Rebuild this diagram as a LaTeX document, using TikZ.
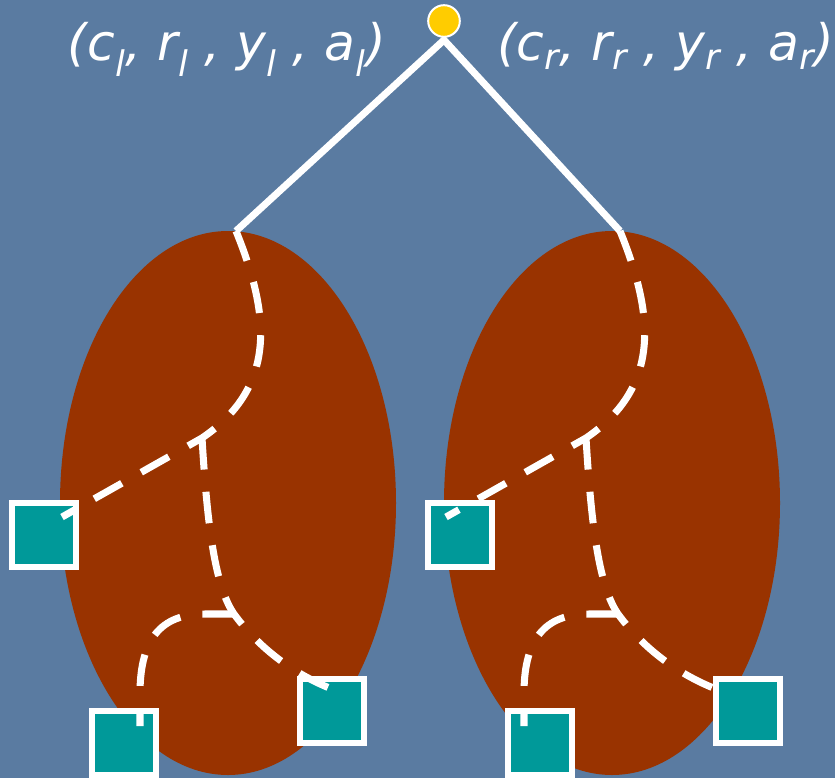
\documentclass[tikz,border=0pt]{standalone}
\usepackage{fontspec}
\setmainfont{DejaVu Sans}
\usetikzlibrary{positioning}
\definecolor{slide-blue}{HTML}{5A7BA1}
\definecolor{slide-rust}{HTML}{993300}
\definecolor{slide-teal}{HTML}{009999}
\definecolor{slide-gold}{HTML}{FFCC00}

\begin{document}
\begin{tikzpicture}[x=0.03cm, y=-0.03cm,
  leaf/.style={draw=white, fill=slide-teal, line width=5pt, minimum size=54pt, inner sep=0pt},
  branch/.style={white, line width=6pt},
  subtree/.style={white, line width=6pt, dash pattern=on 27pt off 19pt},
  tuple/.style={text=white, font=\fontsize{43}{50}\selectfont\itshape, inner sep=0pt}]
  \useasboundingbox (0,0) rectangle (835,778);
  \fill[slide-blue] (0,0) rectangle (835,778);

  \node[tuple, anchor=base east] (tupl) at (386,60)
    {(c\textsubscript{l}, r\textsubscript{l} , y\textsubscript{l} , a\textsubscript{l})};
  \node[tuple, anchor=base west] (tupr) at (497,60)
    {(c\textsubscript{r}, r\textsubscript{r} , y\textsubscript{r} , a\textsubscript{r})};

  \foreach \s/\d/\n in {0/0/l, 384/32/r} {
    \begin{scope}[shift={(\s,0)}]
      \fill[slide-rust] (228,503) ellipse [x radius=168, y radius=272];
      \coordinate (top\n) at (236,231);
      \coordinate (forka\n) at (202,438);
      \coordinate (forkb\n) at (234,614);
      \coordinate (tipa\n) at (62,517);
      \coordinate (tipb\n) at (140,726);
      \coordinate (tipc\n) at (340,692);
      \node[leaf] (leafa\n) at (44+\d,535) {};
      \node[leaf] (leafb\n) at (124+\d,743) {};
      \node[leaf] (leafc\n) at (332+\d,711) {};
      \draw[subtree] (top\n) .. controls (268,310) and (280,385) .. (forka\n) -- (tipa\n);
      \draw[subtree] (forka\n) .. controls (207,520) and (214,585) .. (forkb\n)
        .. controls (262,652) and (300,678) .. (tipc\n);
      \draw[subtree] (forkb\n) -- (205,614) .. controls (160,614) and (141,640) .. (140,690) -- (tipb\n);
    \end{scope}
  }
  \coordinate (apex) at (444,40);
  \draw[branch, line join=miter] (topl) -- (apex) -- (topr);
  \node[circle, draw=white, fill=slide-gold, line width=1.7pt, minimum size=27pt, inner sep=0pt] (root) at (444,21) {};
\end{tikzpicture}
\end{document}
